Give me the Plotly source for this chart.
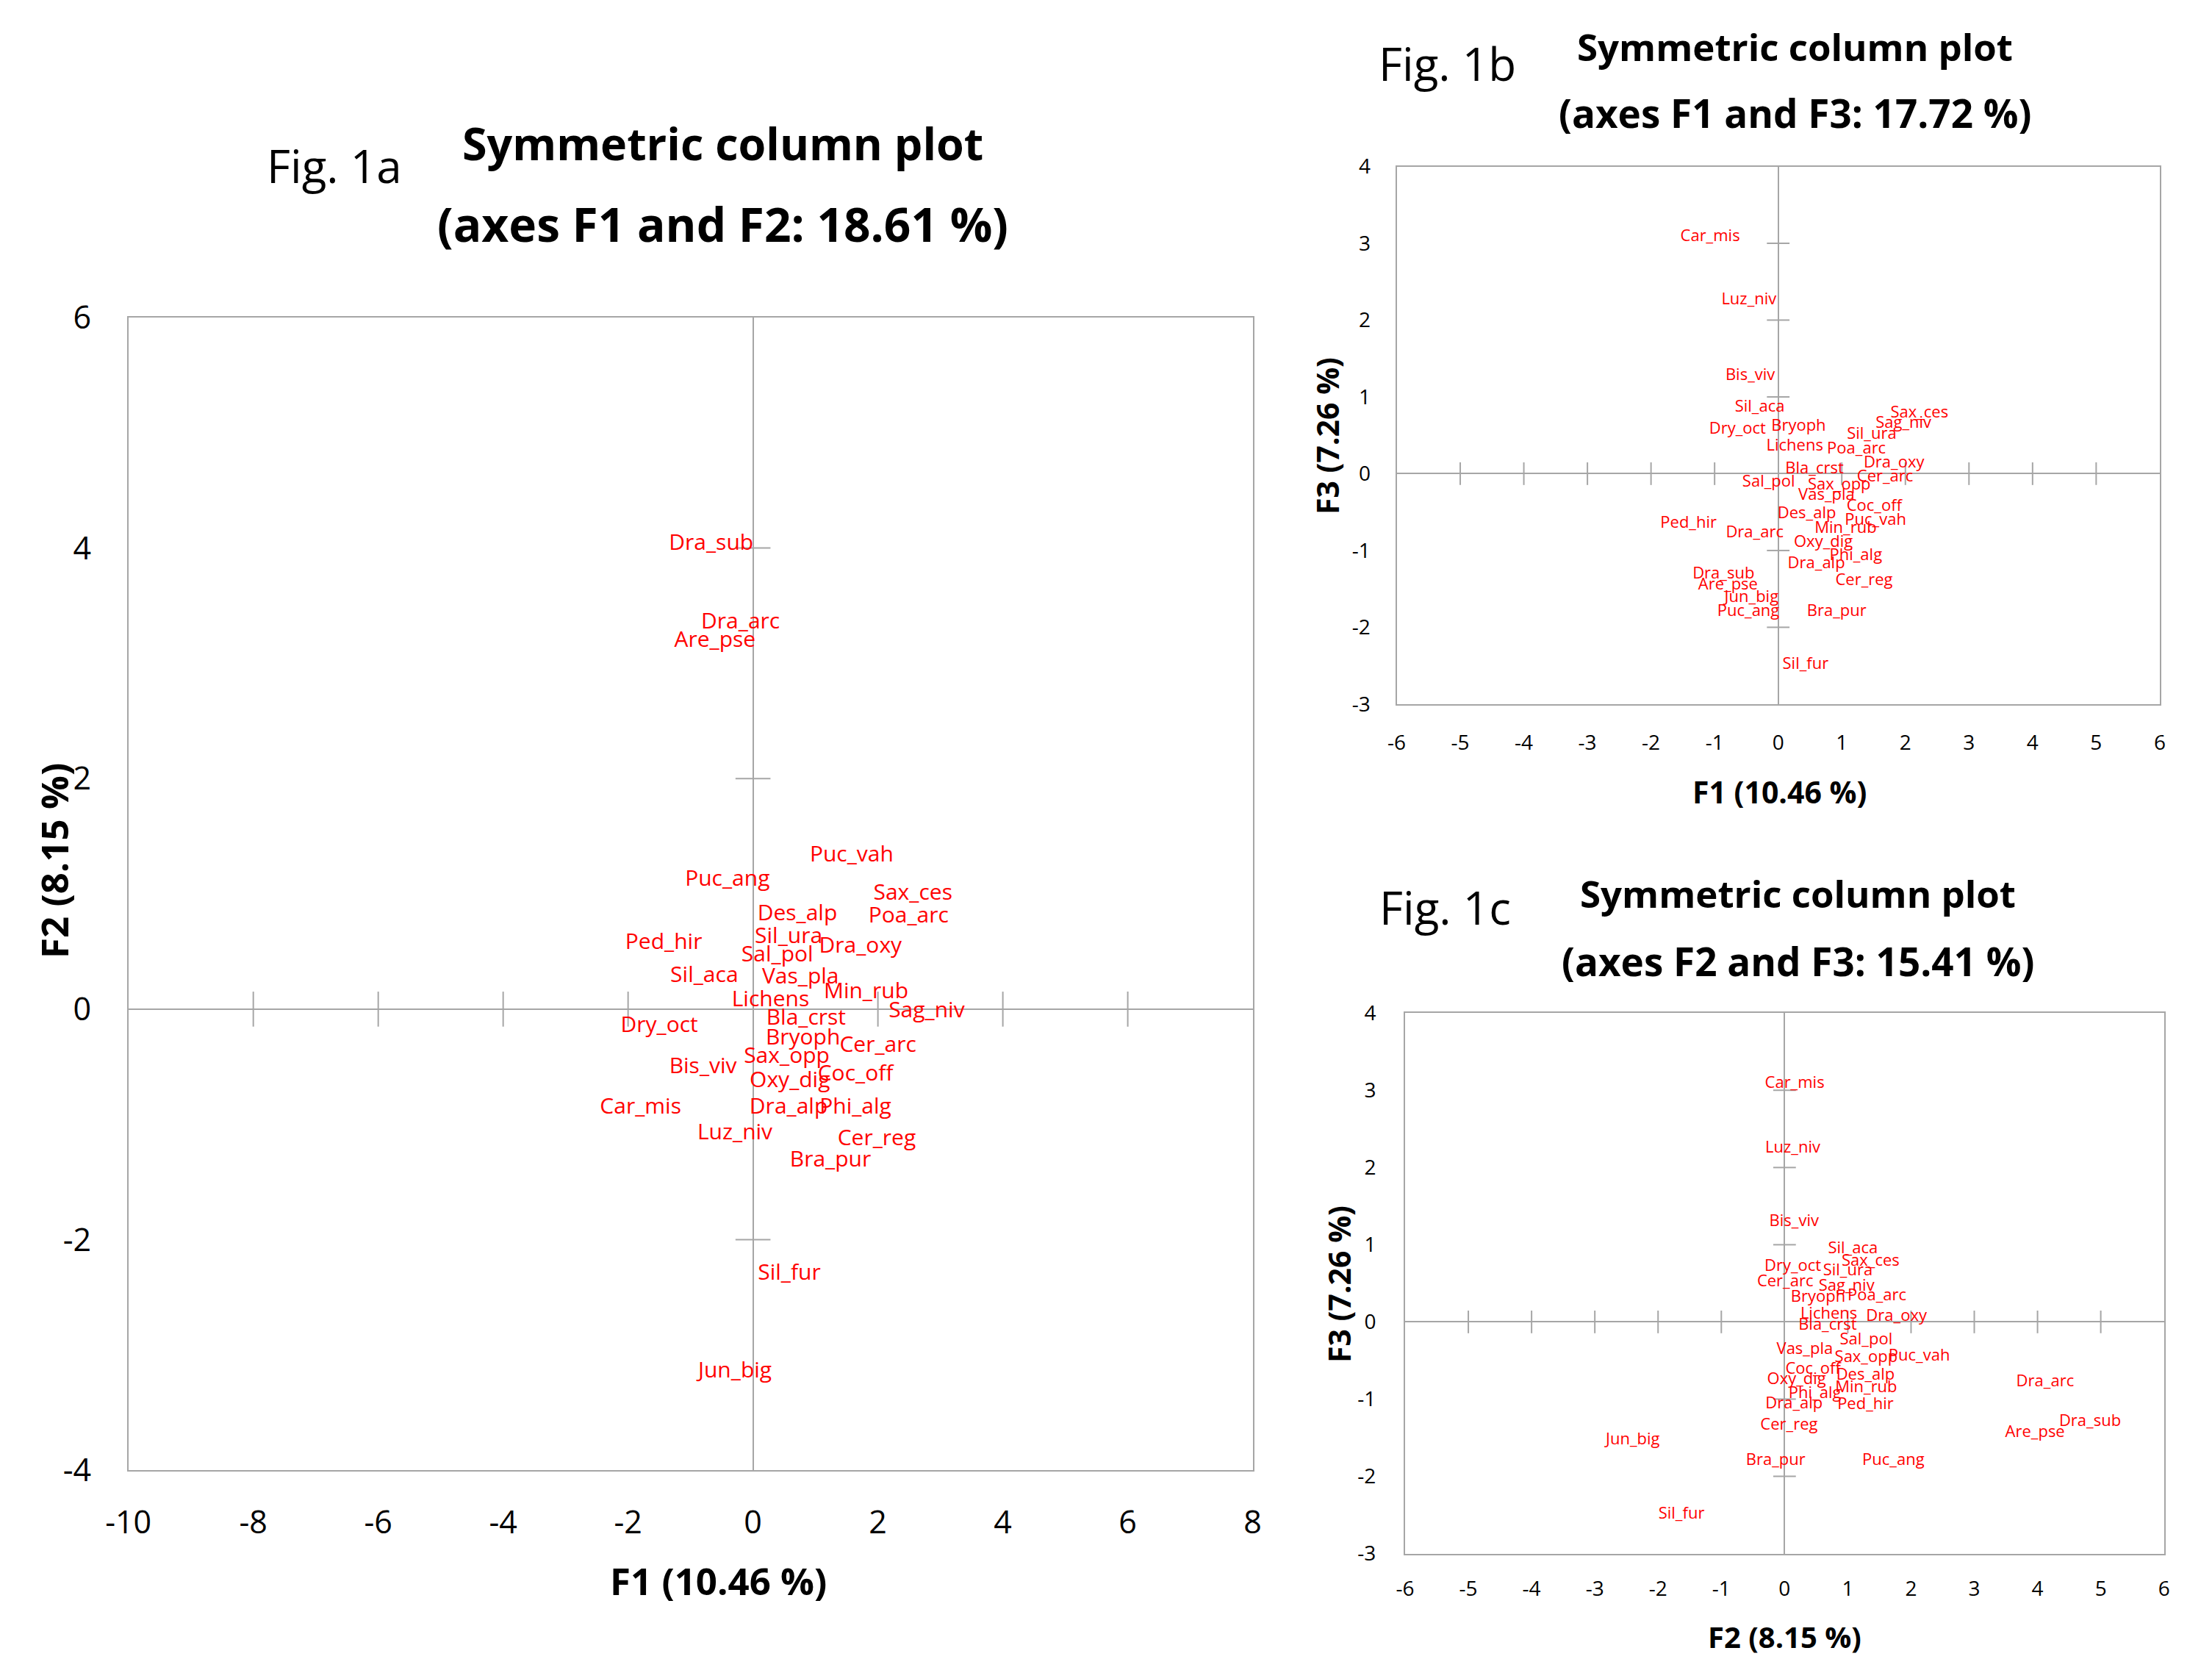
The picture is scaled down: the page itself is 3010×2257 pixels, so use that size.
import plotly.graph_objects as go

W, H = 3010, 2257

species = ["Dra_sub", "Dra_arc", "Are_pse", "Puc_vah", "Puc_ang", "Sax_ces", "Poa_arc",
           "Des_alp", "Sil_ura", "Dra_oxy", "Ped_hir", "Sal_pol", "Sil_aca", "Vas_pla",
           "Min_rub", "Lichens", "Sag_niv", "Bla_crst", "Dry_oct", "Bryoph", "Cer_arc",
           "Sax_opp", "Bis_viv", "Coc_off", "Oxy_dig", "Car_mis", "Dra_alp", "Phi_alg",
           "Luz_niv", "Cer_reg", "Bra_pur", "Sil_fur", "Jun_big"]

# Fig. 1a: F1 (x) vs F2 (y)
fig1a_x = [-0.67, -0.20, -0.61, 1.58, -0.41, 2.56, 2.49, 0.71, 0.57, 1.72, -1.43, 0.39, -0.78,
           0.76, 1.81, 0.28, 2.78, 0.85, -1.50, 0.80, 2.00, 0.54, -0.80, 1.64, 0.59, -1.80,
           0.57, 1.64, -0.29, 1.98, 1.24, 0.58, -0.29]
fig1a_y = [4.03, 3.35, 3.19, 1.33, 1.12, 1.00, 0.80, 0.82, 0.62, 0.54, 0.57, 0.46, 0.28,
           0.27, 0.14, 0.07, -0.02, -0.09, -0.15, -0.26, -0.32, -0.42, -0.51, -0.57, -0.63,
           -0.86, -0.86, -0.86, -1.08, -1.13, -1.32, -2.30, -3.15]

# Fig. 1b: F1 (x) vs F3 (y)
fig1b_x = [-0.86, -0.37, -0.79, 1.53, -0.47, 2.22, 1.23, 0.45, 1.47, 1.82, -1.41, -0.15, -0.29,
           0.76, 1.06, 0.26, 1.97, 0.57, -0.64, 0.32, 1.68, 0.96, -0.44, 1.51, 0.71, -1.07,
           0.60, 1.22, -0.46, 1.35, 0.92, 0.43, -0.42]
fig1b_y = [-1.31, -0.78, -1.46, -0.61, -1.80, 0.78, 0.32, -0.53, 0.51, 0.13, -0.65, -0.12, 0.86,
           -0.29, -0.72, 0.35, 0.65, 0.06, 0.57, 0.61, -0.05, -0.15, 1.27, -0.43, -0.90, 3.08,
           -1.18, -1.07, 2.26, -1.40, -1.80, -2.49, -1.62]

# Fig. 1c: F2 (x) vs F3 (y)
fig1c_x = [4.83, 4.12, 3.96, 2.13, 1.72, 1.36, 1.46, 1.28, 1.00, 1.77, 1.28, 1.29, 1.08,
           0.32, 1.29, 0.70, 0.98, 0.68, 0.13, 0.53, 0.01, 1.29, 0.15, 0.45, 0.19, 0.16,
           0.15, 0.48, 0.13, 0.07, -0.14, -1.63, -2.40]
fig1c_y = [-1.30, -0.78, -1.44, -0.45, -1.80, 0.78, 0.33, -0.70, 0.66, 0.07, -1.08, -0.24, 0.94,
           -0.36, -0.86, 0.09, 0.46, -0.05, 0.71, 0.31, 0.51, -0.47, 1.29, -0.62, -0.75, 3.08,
           -1.07, -0.93, 2.25, -1.34, -1.80, -2.50, -1.53]

ticks_1a_x = [-10, -8, -6, -4, -2, 0, 2, 4, 6, 8]
ticks_1a_y = [-4, -2, 0, 2, 4, 6]
ticks_1bc_x = [-6, -5, -4, -3, -2, -1, 0, 1, 2, 3, 4, 5, 6]
ticks_1bc_y = [-3, -2, -1, 0, 1, 2, 3, 4]

GRAY = "#A6A6A6"
RED = "#FF0000"
FONT = "Open Sans"


def fx(p):
    return p / W


def fy(p):
    return 1 - p / H


panels = [
    dict(x=fig1a_x, y=fig1a_y, xt=ticks_1a_x, yt=ticks_1a_y,
         box=(174.7, 1704.6, 431.9, 2000.2), lab=30, tick=43, mark=34, stx=32, sty=40),
    dict(x=fig1b_x, y=fig1b_y, xt=ticks_1bc_x, yt=ticks_1bc_y,
         box=(1900.5, 2938.9, 226.5, 957.9), lab=22, tick=28, mark=22, stx=26, sty=28),
    dict(x=fig1c_x, y=fig1c_y, xt=ticks_1bc_x, yt=ticks_1bc_y,
         box=(1912.0, 2944.7, 1378.3, 2113.5), lab=22, tick=28, mark=22, stx=22, sty=32),
]

fig = go.Figure()
layout = dict(width=W, height=H, margin=dict(l=0, r=0, t=0, b=0, autoexpand=False),
              paper_bgcolor="white", plot_bgcolor="white", showlegend=False,
              font=dict(family=FONT, color="black"))

for i, p in enumerate(panels):
    sfx = "" if i == 0 else str(i + 1)
    xref, yref = "x" + sfx, "y" + sfx
    x0, x1, y0, y1 = p["box"]
    xt, yt = p["xt"], p["yt"]
    inner_x = [t for t in xt if t not in (0, xt[0], xt[-1])]
    inner_y = [t for t in yt if t not in (0, yt[0], yt[-1])]
    # tick marks crossing the zero axes
    fig.add_trace(go.Scatter(x=inner_x, y=[0] * len(inner_x), mode="markers",
                             marker=dict(symbol="line-ns", size=p["mark"],
                                         line=dict(color=GRAY, width=2)),
                             xaxis=xref, yaxis=yref, hoverinfo="skip"))
    fig.add_trace(go.Scatter(x=[0] * len(inner_y), y=inner_y, mode="markers",
                             marker=dict(symbol="line-ew", size=p["mark"],
                                         line=dict(color=GRAY, width=2)),
                             xaxis=xref, yaxis=yref, hoverinfo="skip"))
    fig.add_trace(go.Scatter(x=p["x"], y=p["y"], text=species, mode="text",
                             textposition="middle center",
                             textfont=dict(family=FONT, size=p["lab"], color=RED),
                             xaxis=xref, yaxis=yref, hoverinfo="text"))
    common = dict(showgrid=False, zeroline=True, zerolinecolor=GRAY, zerolinewidth=2,
                  showline=True, mirror=True, linecolor=GRAY, linewidth=2,
                  ticks="", tickmode="array", fixedrange=True, automargin=False)
    layout["xaxis" + sfx] = dict(common, domain=[fx(x0), fx(x1)], range=[xt[0], xt[-1]],
                                 anchor=yref, tickvals=xt, ticktext=[str(t) for t in xt],
                                 tickfont=dict(size=p["tick"], color="black", family=FONT),
                                 ticklabelstandoff=p["stx"])
    layout["yaxis" + sfx] = dict(common, domain=[fy(y1), fy(y0)], range=[yt[0], yt[-1]],
                                 anchor=xref, tickvals=yt, ticktext=[str(t) for t in yt],
                                 tickfont=dict(size=p["tick"], color="black", family=FONT),
                                 ticklabelstandoff=p["sty"])

fig.update_layout(**layout)

ann = [
    # (text, x px, y px, size, bold, angle)
    ("Fig. 1a", 455, 225, 62, False, 0),
    ("Symmetric column plot", 983, 194, 61, True, 0),
    ("(axes F1 and F2: 18.61 %)", 983, 305, 64, True, 0),
    ("F1 (10.46 %)", 977, 2150, 51, True, 0),
    ("F2 (8.15 %)", 73, 1171, 51, True, -90),
    ("Fig. 1b", 1970, 86, 62, False, 0),
    ("Symmetric column plot", 2442, 63, 51, True, 0),
    ("(axes F1 and F3: 17.72 %)", 2442, 154, 53, True, 0),
    ("F1 (10.46 %)", 2421, 1077, 41, True, 0),
    ("F3 (7.26 %)", 1806, 593, 41, True, -90),
    ("Fig. 1c", 1966, 1234, 62, False, 0),
    ("Symmetric column plot", 2446, 1215, 51, True, 0),
    ("(axes F2 and F3: 15.41 %)", 2446, 1307, 53, True, 0),
    ("F2 (8.15 %)", 2428, 2226, 40, True, 0),
    ("F3 (7.26 %)", 1822, 1747, 41, True, -90),
]
for text, xp, yp, size, bold, ang in ann:
    fig.add_annotation(text=f"<b>{text}</b>" if bold else text, xref="paper", yref="paper",
                       x=fx(xp), y=fy(yp), xanchor="center", yanchor="middle",
                       showarrow=False, textangle=ang,
                       font=dict(family=FONT, size=size, color="black"))

fig.write_html("out.html", config={"displayModeBar": False},
               post_script="document.body.style.margin='0';document.body.style.overflow='hidden';")
